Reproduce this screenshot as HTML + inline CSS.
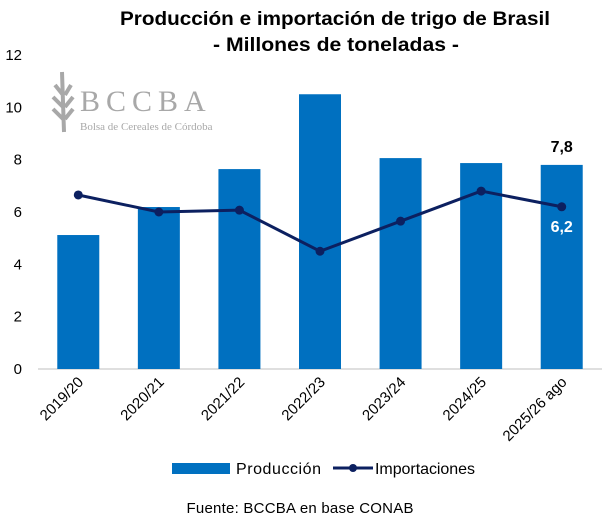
<!DOCTYPE html>
<html><head><meta charset="utf-8"><style>
body{margin:0;background:#fff;}
svg{display:block;font-family:"Liberation Sans",sans-serif;}
</style></head><body>
<svg id="chart" width="613" height="518">
<text x="335" y="25" text-anchor="middle" font-size="19" font-weight="bold" fill="#000" textLength="430" lengthAdjust="spacingAndGlyphs">Producción e importación de trigo de Brasil</text>
<text x="336" y="51" text-anchor="middle" font-size="19" font-weight="bold" fill="#000" textLength="246" lengthAdjust="spacingAndGlyphs">- Millones de toneladas -</text>
<g fill="#a8a8a8">
<text x="80" y="111" font-family="Liberation Serif,serif" font-size="30" letter-spacing="6">BCCBA</text>
<text x="80" y="130" font-family="Liberation Serif,serif" font-size="11">Bolsa de Cereales de Córdoba</text>
<path d="M62 72 L64 132 M55 85 L63 95 M71 85 L65 95 M53 97 L63 107 M73 97 L65 107 M53 109 L63 119 M73 109 L65 119" stroke="#a8a8a8" stroke-width="4" fill="none"/>
</g>
<g id="axes"></g>
<g id="marks"></g>
<g>
<rect x="172" y="463" width="58" height="11" fill="#0070c0"/>
<text x="236" y="474" font-size="16" fill="#000" textLength="85">Producción</text>
<line x1="333" y1="468" x2="373" y2="468" stroke="#0c2060" stroke-width="3"/>
<circle cx="353" cy="468" r="4" fill="#0c2060"/>
<text x="375" y="474" font-size="16" fill="#000" textLength="100">Importaciones</text>
</g>
<text x="300" y="513" text-anchor="middle" font-size="15" fill="#000" textLength="227">Fuente: BCCBA en base CONAB</text>
</svg>
<script>
const categories=["2019/20","2020/21","2021/22","2022/23","2023/24","2024/25","2025/26 ago"];
const produccion=[5.12,6.19,7.64,10.5,8.06,7.87,7.8];
const importaciones=[6.65,6.0,6.07,4.5,5.65,6.8,6.2];
const yTicks=[0,2,4,6,8,10,12];
const NS="http://www.w3.org/2000/svg";
const x0=38,x1=602,yb=369,yt=55;
const step=(x1-x0)/categories.length;
const xc=i=>x0+step*(i+0.5);
const y=v=>yb-(v/12)*(yb-yt);
function mk(tag,attrs,parent){const e=document.createElementNS(NS,tag);for(const k in attrs)e.setAttribute(k,attrs[k]);parent.appendChild(e);return e;}
const axes=document.getElementById('axes'),marks=document.getElementById('marks');
yTicks.forEach(t=>{const tx=mk('text',{x:22,y:y(t)+5,'text-anchor':'end','font-size':15,fill:'#000'},axes);tx.textContent=t;

});
const ax=mk('line',{x1:x0,x2:x1,y1:yb,y2:yb,stroke:'#bfbfbf','stroke-width':1},axes);


categories.forEach((c,i)=>{const tx=mk('text',{'text-anchor':'end','font-size':15,fill:'#000',transform:`translate(${xc(i)+6},${yb+14}) rotate(-45)`},axes);tx.textContent=c;

});
produccion.forEach((v,i)=>{const r=mk('rect',{x:xc(i)-21,y:y(v),width:42,height:yb-y(v),fill:'#0070c0'},marks);

});
const pl=mk('polyline',{points:importaciones.map((v,i)=>xc(i)+','+y(v)).join(' '),fill:'none',stroke:'#0c2060','stroke-width':3},marks);


importaciones.forEach((v,i)=>{const c=mk('circle',{cx:xc(i),cy:y(v),r:4.5,fill:'#0c2060'},marks);

});
const n=categories.length-1;
const l1=mk('text',{x:xc(n),y:y(produccion[n])-13,'text-anchor':'middle','font-size':16,'font-weight':'bold',fill:'#000'},marks);
l1.textContent=produccion[n].toFixed(1).replace('.',',');


const l2=mk('text',{x:xc(n),y:y(importaciones[n])+25,'text-anchor':'middle','font-size':16,'font-weight':'bold',fill:'#fff'},marks);
l2.textContent=importaciones[n].toFixed(1).replace('.',',');


</script>
</body></html>
